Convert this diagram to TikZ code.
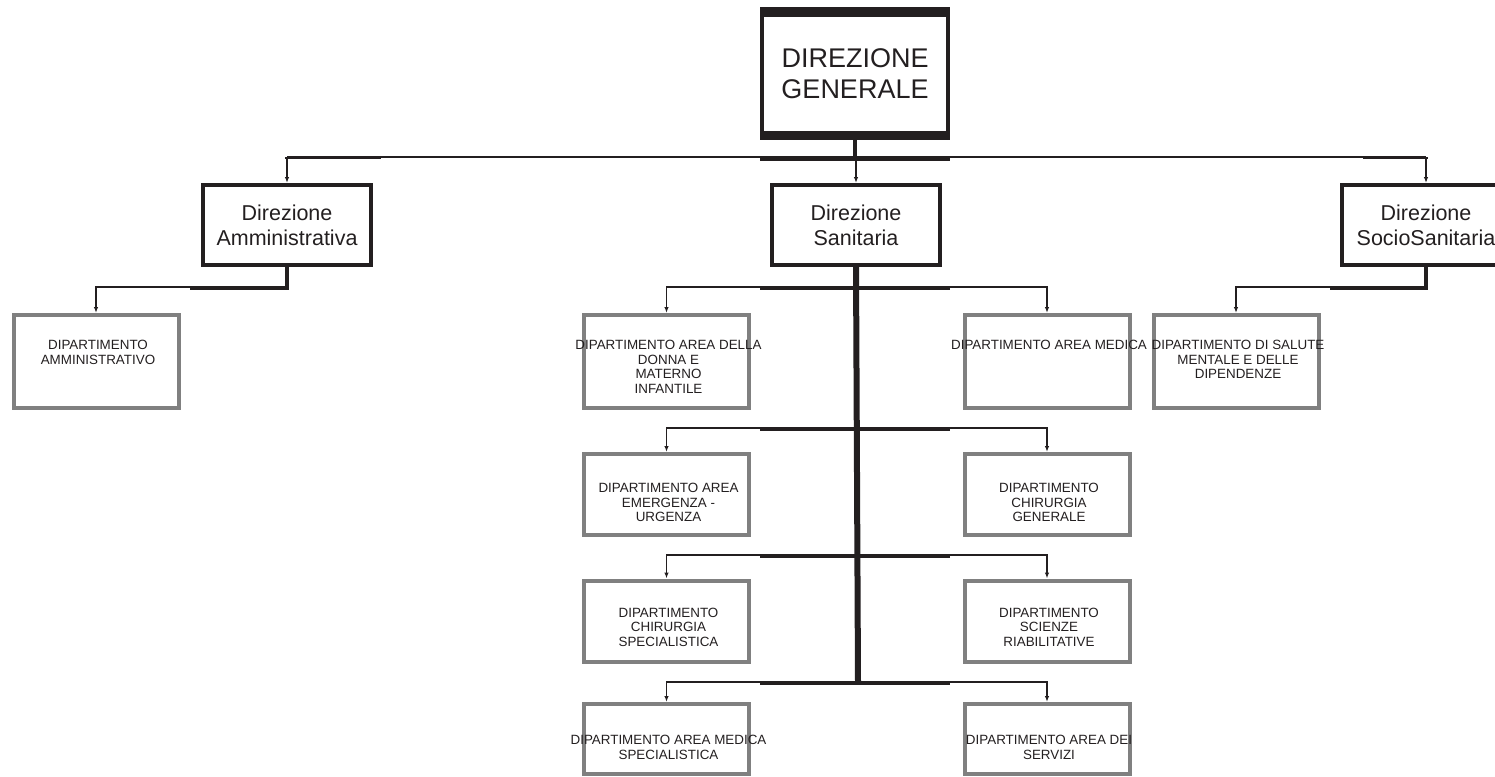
\documentclass[tikz,border=0pt]{standalone}
\usepackage{fontspec}
\setmainfont{Liberation Sans}
\usetikzlibrary{arrows.meta}
\definecolor{ink}{HTML}{231F20}
\definecolor{frame}{HTML}{808080}

\begin{document}
\begin{tikzpicture}[x=1pt, y=-1pt,
    boss/.style={draw=ink, line width=4pt, inner sep=0pt, minimum width=186pt, minimum height=129pt, align=center, text=ink, font=\fontsize{27}{31}\selectfont},
    head/.style={draw=ink, line width=4pt, inner sep=0pt, minimum width=168pt, minimum height=80pt, align=center, text=ink, font=\fontsize{21.5}{25}\selectfont},
    dept/.style={draw=frame, line width=4pt, inner sep=0pt, minimum width=165pt, minimum height=81pt},
    dtext/.style={anchor=north, align=center, inner sep=0pt, text=ink, font=\fontsize{13.4}{14.5}\selectfont},
    wire/.style={draw=ink, line width=1.4pt},
    feed/.style={wire, -{Latex[length=6pt, width=4.5pt]}},
    trunk/.style={draw=ink, line width=4pt},
    spine/.style={draw=ink, line width=6pt}]
	\path[use as bounding box] (0,0) rectangle (1495,776);
	\clip (0,0) rectangle (1495,776);

	% top and second level
	\node[boss] (dg) at (855,73.5) {DIREZIONE\\GENERALE};
	\fill[ink] (760,7) rectangle (950,17);
	\fill[ink] (760,131) rectangle (950,140);
	\node[head] (amm) at (287,225) {Direzione\\Amministrativa};
	\node[head] (san) at (856,225) {Direzione\\Sanitaria};
	\node[head] (soc) at (1426,225) {Direzione\\SocioSanitaria};

	% departments
	\node[dept, minimum height=93pt] (dadm) at (96,361.5) {};
	\node[dept, minimum height=93pt] (ddon) at (666.5,361.5) {};
	\node[dept, minimum height=93pt] (dmed) at (1047,361.5) {};
	\node[dept, minimum height=93pt] (dsal) at (1236,361.5) {};
	\node[dept] (deme) at (666.5,494.5) {};
	\node[dept] (dchg) at (1047,494.5) {};
	\node[dept] (dchs) at (666.5,621) {};
	\node[dept] (dria) at (1047,621) {};
	\node[dept, minimum height=70pt] (dmsp) at (666.5,739) {};
	\node[dept, minimum height=70pt] (dser) at (1047,739) {};

	\node[dtext] at ([xshift=2pt,yshift=-27pt]dadm.north) {DIPARTIMENTO\\AMMINISTRATIVO};
	\node[dtext] at ([xshift=2pt,yshift=-27pt]ddon.north) {DIPARTIMENTO AREA DELLA\\DONNA E\\MATERNO\\INFANTILE};
	\node[dtext] at ([xshift=2pt,yshift=-27pt]dmed.north) {DIPARTIMENTO AREA MEDICA};
	\node[dtext] at ([xshift=2pt,yshift=-27pt]dsal.north) {DIPARTIMENTO DI SALUTE\\MENTALE E DELLE\\DIPENDENZE};
	\node[dtext] at ([xshift=2pt,yshift=-31pt]deme.north) {DIPARTIMENTO AREA\\EMERGENZA -\\URGENZA};
	\node[dtext] at ([xshift=2pt,yshift=-31pt]dchg.north) {DIPARTIMENTO\\CHIRURGIA\\GENERALE};
	\node[dtext] at ([xshift=2pt,yshift=-29pt]dchs.north) {DIPARTIMENTO\\CHIRURGIA\\SPECIALISTICA};
	\node[dtext] at ([xshift=2pt,yshift=-29pt]dria.north) {DIPARTIMENTO\\SCIENZE\\RIABILITATIVE};
	\node[dtext] at ([xshift=2pt,yshift=-33pt]dmsp.north) {DIPARTIMENTO AREA MEDICA\\SPECIALISTICA};
	\node[dtext] at ([xshift=2pt,yshift=-33pt]dser.north) {DIPARTIMENTO AREA DEI\\SERVIZI};

	% connectors from the top
	\coordinate (j0) at (857,157);
	\draw[trunk] (dg.south) -- (dg.south |- j0);
	\draw[wire] (amm.north |- j0) -- (soc.north |- j0);
	\fill[ink] (760,157) rectangle (950,161);
	\fill[ink] (285,157) rectangle (381,159);
	\fill[ink] (1363,157) rectangle (1428,159);
	\foreach \n in {amm,san,soc} \draw[feed] (\n.north |- j0) -- (\n.north);

	% administrative branch
	\coordinate (j1) at (287,287);
	\draw[trunk] (amm.south) -- (j1);
	\draw[feed] (j1) -| (dadm.north);
	\fill[ink] (190,287) rectangle (289,290);

	% sanitary spine
	\coordinate (j2) at (858,683);
	\draw[spine] (san.south) -- (j2);
	\foreach \a/\b/\y in {ddon/dmed/287, deme/dchg/428, dchs/dria/555, dmsp/dser/682} {
		\coordinate (k) at (858,\y);
		\draw[feed] (k) -| (\a.north);
		\draw[feed] (k) -| (\b.north);
		\fill[ink] (760,\y) rectangle (950,\y+3);
	}

	% socio-sanitary branch
	\coordinate (j3) at (1427,287);
	\draw[trunk] (soc.south) -- (soc.south |- j3);
	\draw[feed] (soc.south |- j3) -| (dsal.north);
	\fill[ink] (1330,287) rectangle (1428,290);
\end{tikzpicture}
\end{document}
